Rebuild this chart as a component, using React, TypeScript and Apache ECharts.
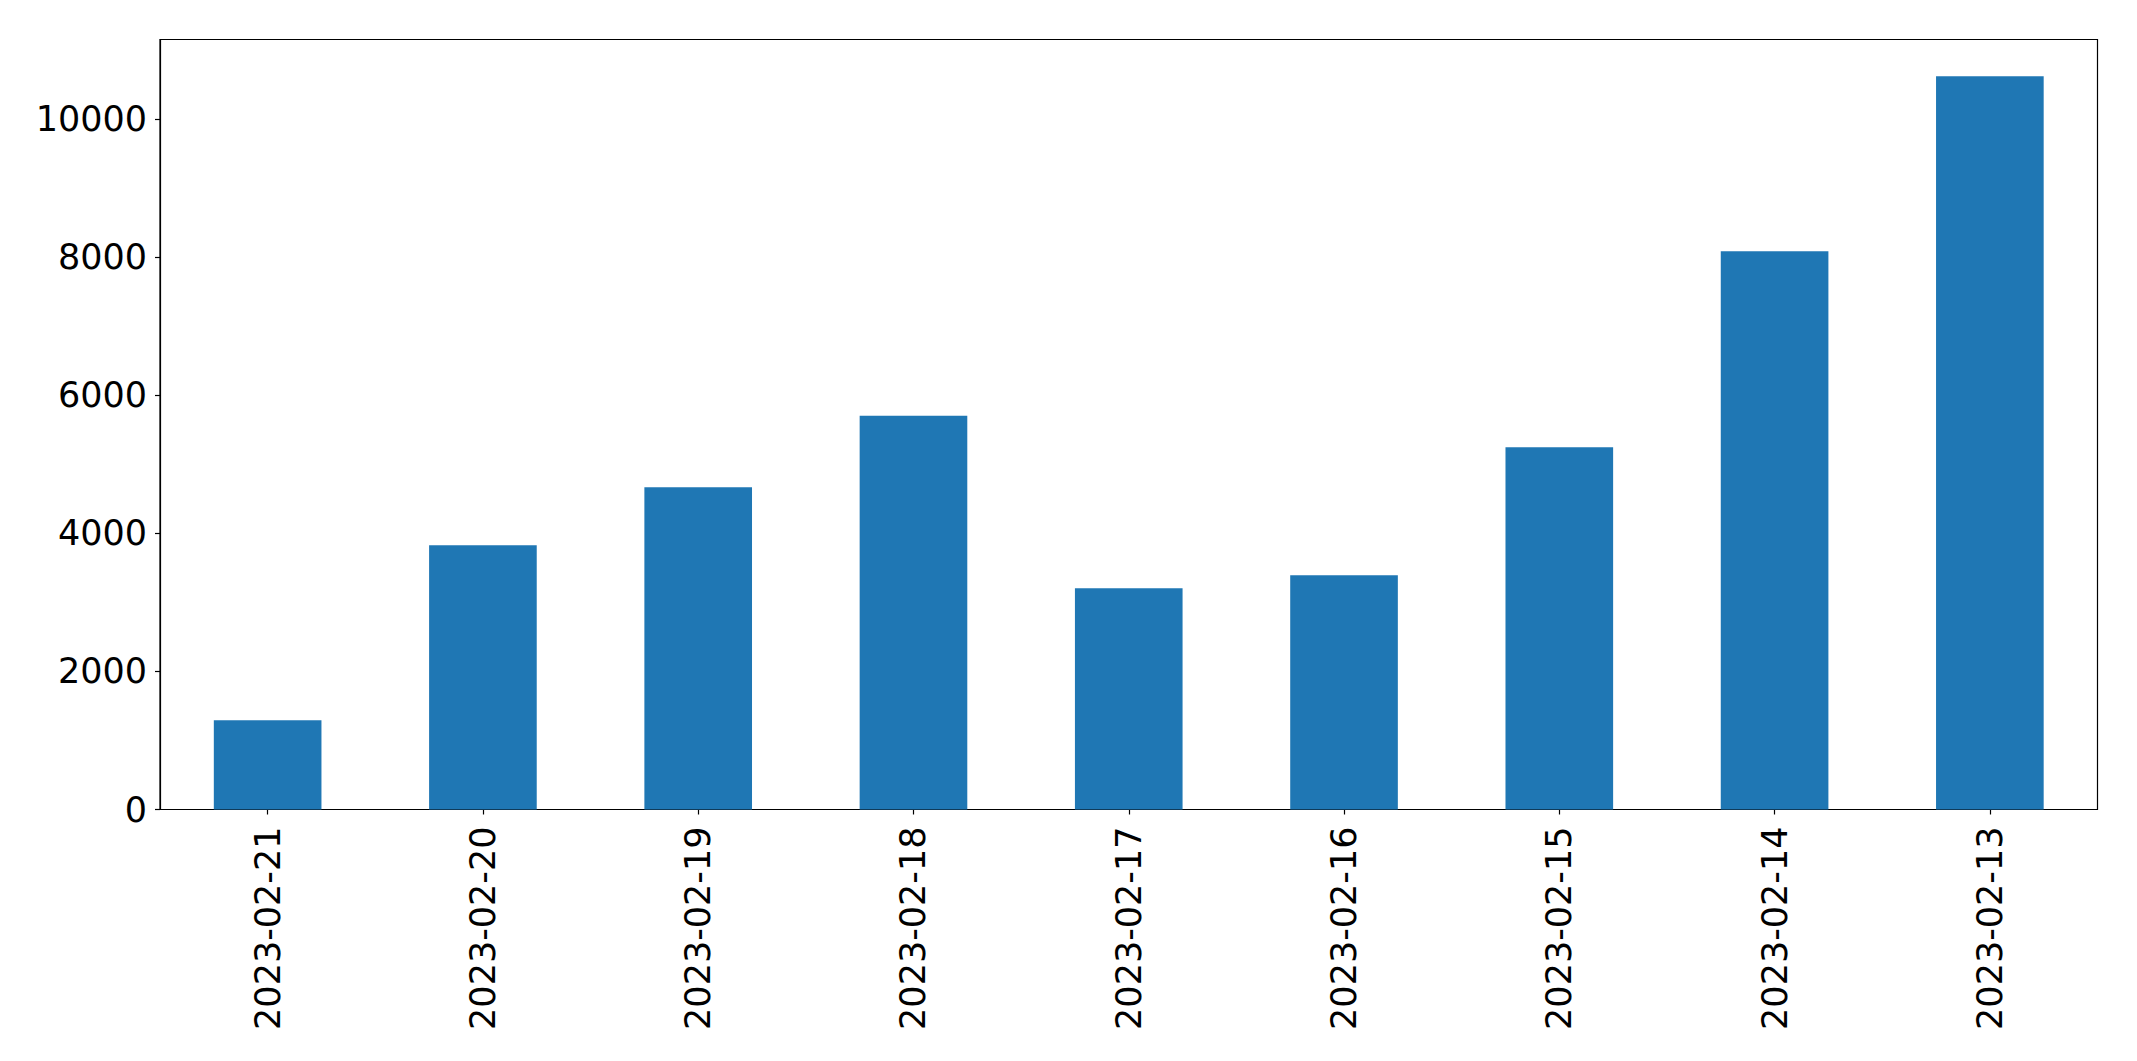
import React, { useEffect, useRef } from "react";
import * as echarts from "echarts";

const categories = [
  "2023-02-21",
  "2023-02-20",
  "2023-02-19",
  "2023-02-18",
  "2023-02-17",
  "2023-02-16",
  "2023-02-15",
  "2023-02-14",
  "2023-02-13",
];
const values = [1294, 3830, 4671, 5705, 3207, 3395, 5251, 8091, 10627];
const yTicks = [0, 2000, 4000, 6000, 8000, 10000];

export default function App() {
  const ref = useRef<HTMLDivElement>(null);
  useEffect(() => {
    document.body.style.margin = "0";
    const chart = echarts.init(ref.current!, null, { renderer: "svg" });
    const font = "DejaVu Sans";
    chart.setOption({
      animation: false,
      backgroundColor: "#ffffff",
      grid: {
        left: 160,
        top: 39.5,
        width: 1937.5,
        height: 770,
        show: true,
        borderColor: "#000000",
        borderWidth: 1.2,
        backgroundColor: "transparent",
      },
      xAxis: {
        type: "category",
        data: categories,
        boundaryGap: true,
        axisLine: { show: true, lineStyle: { color: "#000", width: 1.2 } },
        axisTick: {
          show: true,
          alignWithLabel: true,
          length: 5,
          lineStyle: { color: "#000", width: 1.2 },
        },
        axisLabel: {
          rotate: 90,
          margin: 17,
          fontSize: 35,
          fontFamily: font,
          color: "#000",
        },
      },
      yAxis: {
        type: "value",
        min: 0,
        max: 11158,
        interval: 2000,
        splitLine: { show: false },
        axisLine: { show: true, lineStyle: { color: "#000", width: 1.2 } },
        axisTick: {
          show: true,
          length: 5,
          customValues: yTicks,
          lineStyle: { color: "#000", width: 1.2 },
        },
        axisLabel: {
          margin: 13,
          fontSize: 35,
          fontFamily: font,
          color: "#000",
          customValues: yTicks,
          formatter: (v: number) => String(v),
        },
      },
      series: [
        {
          type: "bar",
          data: values,
          barWidth: "50%",
          itemStyle: { color: "#1f77b4" },
        },
      ],
    });
    return () => chart.dispose();
  }, []);
  return <div ref={ref} style={{ width: 2137, height: 1061 }} />;
}
